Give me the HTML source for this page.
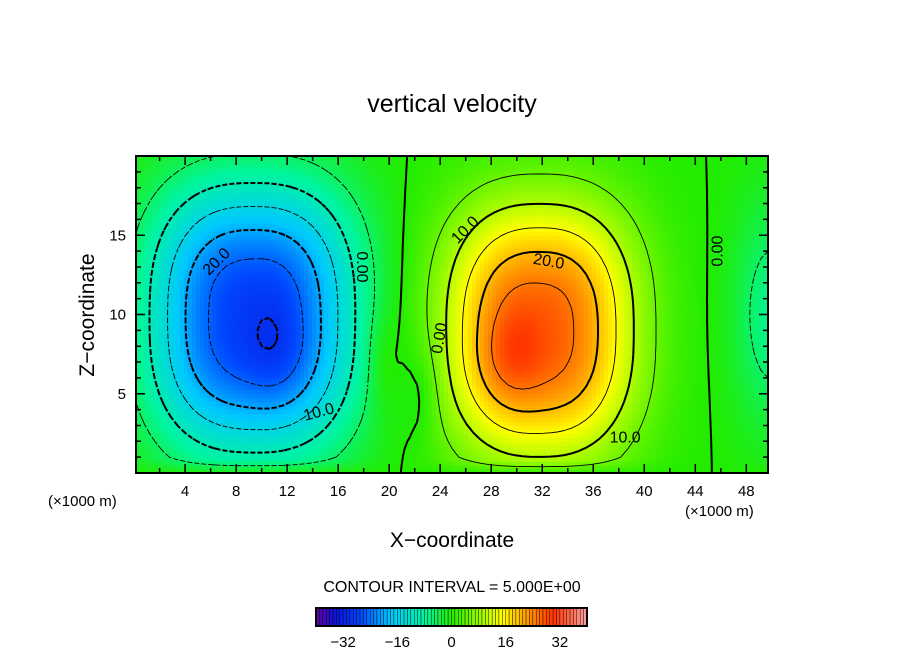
<!DOCTYPE html>
<html><head><meta charset="utf-8"><style>
body{margin:0;background:#fff;}
svg text{font-family:"Liberation Sans",sans-serif;fill:#000;}
</style></head><body>
<svg id="c" width="904" height="654" viewBox="0 0 904 654" xmlns="http://www.w3.org/2000/svg">
<text x="452" y="112" font-size="25" text-anchor="middle">vertical velocity</text>
<text x="94" y="315" font-size="21" text-anchor="middle" transform="rotate(-90 94 315)">Z−coordinate</text>
<text x="452" y="547" font-size="21" text-anchor="middle">X−coordinate</text>
<text x="48" y="506" font-size="15">(×1000 m)</text>
<text x="685" y="516" font-size="15">(×1000 m)</text>
<text x="452" y="592" font-size="16" text-anchor="middle">CONTOUR INTERVAL = 5.000E+00</text>
<g id="plot"></g>
<g id="cbar"></g>
</svg>
<script>
// field model data (Gaussian-like cells): centers in km, amplitudes in m/s
const blobX=[9.3,31.8,29.5,50,19.5,22.5,11];
const blobZ=[9.8,9,7.5,10,7,5,8];
const blobAmp=[-28,27,4,-7,2.5,-3,-3];
const blobSx=[8,7.4,2.5,3,1.2,1.5,2.5];
const blobSz=[8.4,8,3,7,3,3,3.5];
const blobP=[2.6,2.5,2,2,2,2,2];
const levels=[-30,-25,-20,-15,-10,-5,0,5,10,15,20,25,30];
const cbTicks=[-32,-16,0,16,32];
const labelText=["20.0","10.0","0.00","0.00","10.0","20.0","10.0","0.00"];
const labelX=[6.5,14.5,17.8,24,26,32.5,38.5,45.8];
const labelZ=[13.3,3.8,13,8.5,15.3,13.3,2.2,14];
const labelRot=[-45,-15,90,-80,-45,10,0,-90];
const xTicks=[4,8,12,16,20,24,28,32,36,40,44,48];
const yTicks=[5,10,15];

const L=136,R=768,T=156,B=473,X0=0.15,X1=49.7,Z0=0,Z1=20;
const sx=x=>L+(x-X0)/(X1-X0)*(R-L);
const sy=z=>B-(z-Z0)/(Z1-Z0)*(B-T);
const NS='http://www.w3.org/2000/svg';
function mk(tag,attrs,parent){const e=document.createElementNS(NS,tag);for(const k in attrs)e.setAttribute(k,attrs[k]);parent.appendChild(e);return e;}
function field(x,z){let v=0;for(let i=0;i<blobX.length;i++){const dx=Math.abs((x-blobX[i])/blobSx[i]),dz=Math.abs((z-blobZ[i])/blobSz[i]);v+=blobAmp[i]*Math.exp(-(Math.pow(dx,blobP[i])+Math.pow(dz,blobP[i])));}
 return v*Math.min(1,z/1.0+0.2);}
const stops=[[-40,[100,0,160]],[-34,[10,20,220]],[-27,[0,70,255]],[-18,[0,200,255]],[-8,[0,245,160]],[0,[34,236,0]],[8,[150,250,0]],[15,[255,255,0]],[22,[255,160,0]],[30,[255,50,0]],[40,[255,160,160]]];
function col(v){v=Math.max(-40,Math.min(40,v));for(let i=0;i<stops.length-1;i++){const a=stops[i],b=stops[i+1];if(v<=b[0]){const t=(v-a[0])/(b[0]-a[0]);const c=a[1].map((q,j)=>Math.round(q+(b[1][j]-q)*t));return 'rgb('+c.join(',')+')';}}return 'rgb(255,160,160)';}
const plot=document.getElementById('plot');
const NX=158,NZ=80;
const hm=mk('g',{},plot);


const cw=(R-L)/NX,ch=(B-T)/NZ;
for(let i=0;i<NX;i++)for(let j=0;j<NZ;j++){
 const x=X0+(i+0.5)/NX*(X1-X0),z=Z0+(j+0.5)/NZ*(Z1-Z0);
 mk('rect',{x:(L+i*cw).toFixed(2),y:(B-(j+1)*ch).toFixed(2),width:(cw+0.6).toFixed(2),height:(ch+0.6).toFixed(2),fill:col(field(x,z))},hm);
}
const GX=90,GZ=40,g=[];
for(let i=0;i<=GX;i++){g[i]=[];for(let j=0;j<=GZ;j++)g[i][j]=field(X0+i/GX*(X1-X0),Z0+j/GZ*(Z1-Z0));}
const cg=mk('g',{fill:'none',stroke:'#000'},plot);


levels.forEach(lv=>{
 let d='';
 const P=(i,j)=>[sx(X0+i/GX*(X1-X0)),sy(Z0+j/GZ*(Z1-Z0))];
 for(let i=0;i<GX;i++)for(let j=0;j<GZ;j++){
  const c=[[i,j],[i+1,j],[i+1,j+1],[i,j+1]];const pts=[];
  for(let k=0;k<4;k++){const a=c[k],b=c[(k+1)%4];const va=g[a[0]][a[1]]-lv,vb=g[b[0]][b[1]]-lv;
   if((va<0)!==(vb<0)){const t=va/(va-vb);const pa=P(a[0],a[1]),pb=P(b[0],b[1]);pts.push([pa[0]+(pb[0]-pa[0])*t,pa[1]+(pb[1]-pa[1])*t]);}}
  for(let k=0;k+1<pts.length;k+=2)d+='M'+pts[k][0].toFixed(1)+' '+pts[k][1].toFixed(1)+'L'+pts[k+1][0].toFixed(1)+' '+pts[k+1][1].toFixed(1);
 }
 const p=mk('path',{d:d,'stroke-width':lv%10===0?2:0.9},cg);
 if(lv<0)p.setAttribute('stroke-dasharray','5 2');
 
 
});
labelText.forEach((t,i)=>{const x=sx(labelX[i]),y=sy(labelZ[i]);
 const e=mk('text',{x:x,y:y,'font-size':16,'text-anchor':'middle','dominant-baseline':'middle',transform:'rotate('+labelRot[i]+' '+x+' '+y+')',stroke:'none'},plot);e.textContent=t;
 
 });
const fr=mk('rect',{x:L,y:T,width:R-L,height:B-T,fill:'none',stroke:'#000','stroke-width':2},plot);


let td='';
for(let x=2;x<=48;x+=2){const px=sx(x),len=x%4===0?9:5;td+=`M${px} ${B}v${-len}M${px} ${T}v${len}`;}
for(let z=1;z<20;z++){const py=sy(z),len=z%5===0?9:5;td+=`M${L} ${py}h${len}M${R} ${py}h${-len}`;}
const tk=mk('path',{d:td,stroke:'#000','stroke-width':1.5},plot);


xTicks.forEach(v=>{const e=mk('text',{x:sx(v),y:496,'font-size':15,'text-anchor':'middle'},plot);e.textContent=v;
 
 });
yTicks.forEach(v=>{const e=mk('text',{x:126,y:sy(v)+5,'font-size':15,'text-anchor':'end'},plot);e.textContent=v;
 
 });
const cb=document.getElementById('cbar');const CL=316,CR=587,CT=608,CB=626,cs=v=>CL+(v+40)/80*(CR-CL);
for(let k=0;k<80;k++){const r=mk('rect',{x:cs(-40+k),y:CT,width:(CR-CL)/80,height:CB-CT,fill:col(-40+k+0.5),stroke:'#000','stroke-width':0.4},cb);
 
 }
mk('rect',{x:CL,y:CT,width:CR-CL,height:CB-CT,fill:'none',stroke:'#000','stroke-width':2},cb);
cbTicks.forEach(v=>{const e=mk('text',{x:cs(v),y:647,'font-size':15,'text-anchor':'middle'},cb);e.textContent=(v<0?'−':'')+Math.abs(v);
 
 });
</script>
</body></html>
